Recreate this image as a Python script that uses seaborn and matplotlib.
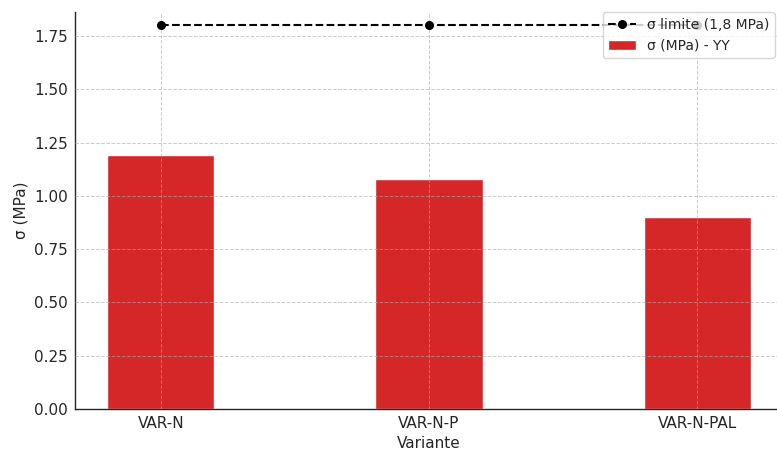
import matplotlib
matplotlib.use("Agg")
import matplotlib.pyplot as plt
import seaborn as sns
import pandas as pd

variants = ["VAR-N", "VAR-N-P", "VAR-N-PAL"]
sigma_yy = [1.19, 1.08, 0.90]
sigma_limit = [1.8, 1.8, 1.8]

df = pd.DataFrame({"Variante": variants, "sigma": sigma_yy})

sns.set_style("white")
plt.rcParams["font.family"] = ["DejaVu Sans"]

fig = plt.figure(figsize=(7.77, 4.5), dpi=100)
ax = fig.add_axes([75 / 777, 41 / 450, 708 / 777, 397 / 450])

sns.barplot(data=df, x="Variante", y="sigma", color="#d62728", saturation=1,
            width=0.4, label="σ (MPa) - YY", ax=ax, zorder=1)
ax.plot(range(len(variants)), sigma_limit, linestyle="--", marker="o",
        color="black", markersize=5.5, linewidth=1.5,
        label="σ limite (1,8 MPa)", zorder=3)

ax.set_xlim(-0.32, 2.32)
ax.set_ylim(0, 1.863)
ax.set_yticks([0, 0.25, 0.5, 0.75, 1.0, 1.25, 1.5, 1.75])
ax.set_yticklabels([f"{v:.2f}" for v in ax.get_yticks()])
ax.grid(True, linestyle="--", linewidth=0.7, color="#aaaaaa", alpha=0.6, zorder=2)
ax.set_axisbelow(False)
for child in ax.get_xgridlines() + ax.get_ygridlines():
    child.set_zorder(2)

ax.tick_params(axis="both", length=0, labelsize=11, colors="#262626", pad=5)
ax.set_xlabel("Variante", fontsize=11, color="#262626")
ax.set_ylabel("σ (MPa)", fontsize=11, color="#262626")

for side in ["top", "right"]:
    ax.spines[side].set_visible(False)
for side in ["left", "bottom"]:
    ax.spines[side].set_color("#262626")
    ax.spines[side].set_linewidth(1.0)

ax.legend(loc="upper right", bbox_to_anchor=(700 / 708, 1.0), fontsize=10,
          framealpha=0.8, borderaxespad=0)

fig.savefig("out.png", dpi=100)
